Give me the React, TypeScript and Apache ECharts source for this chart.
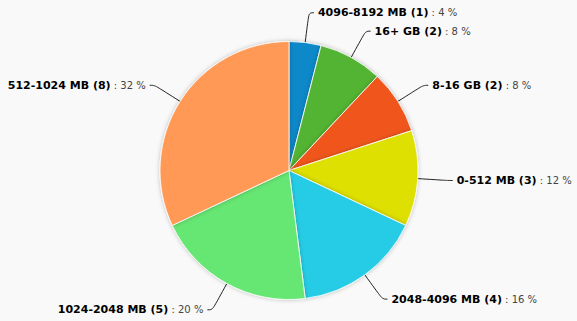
import React, { useEffect, useRef } from "react";
import * as echarts from "echarts";

const categories = [
  "4096-8192 MB (1)",
  "16+ GB (2)",
  "8-16 GB (2)",
  "0-512 MB (3)",
  "2048-4096 MB (4)",
  "1024-2048 MB (5)",
  "512-1024 MB (8)",
];
const values = [1, 2, 2, 3, 4, 5, 8];
const colors = ["#0b88c8", "#52b332", "#f0571e", "#dde000", "#26cce6", "#66e673", "#ff9955"];

export default function App() {
  const ref = useRef<HTMLDivElement>(null);
  useEffect(() => {
    document.body.style.margin = "0";
    if (!ref.current) return;
    const chart = echarts.init(ref.current, null, { renderer: "svg" });
    const total = values.reduce((a, b) => a + b, 0);
    chart.setOption({
      animation: false,
      backgroundColor: "#f9f9f9",
      series: [
        {
          type: "pie",
          center: [289, 170.5],
          radius: 129,
          startAngle: 90,
          clockwise: true,
          avoidLabelOverlap: false,
          data: categories.map((c, i) => ({
            name: c,
            value: values[i],
            itemStyle: { color: colors[i] },
          })),
          itemStyle: {
            borderColor: "rgba(255,255,255,0.8)",
            borderWidth: 1,
            shadowBlur: 4,
            shadowColor: "rgba(0,0,0,0.25)",
          },
          label: {
            show: true,
            position: "outside",
            formatter: (p: any) =>
              `{b|${p.name}}{p| : ${Math.round((p.value / total) * 100)} %}`,
            rich: {
              b: {
                fontFamily: "DejaVu Sans",
                fontWeight: "bold",
                fontSize: 11,
                color: "#000",
              },
              p: {
                fontFamily: "DejaVu Sans",
                fontSize: 10,
                color: "#444",
              },
            },
            distanceToLabelLine: 4,
          },
          labelLine: {
            show: true,
            length: 30,
            length2: 5,
            smooth: 0.4,
            lineStyle: { color: "#222", width: 1 },
          },
        },
      ],
    });
    return () => chart.dispose();
  }, []);
  return <div ref={ref} style={{ width: 577, height: 321 }} />;
}
